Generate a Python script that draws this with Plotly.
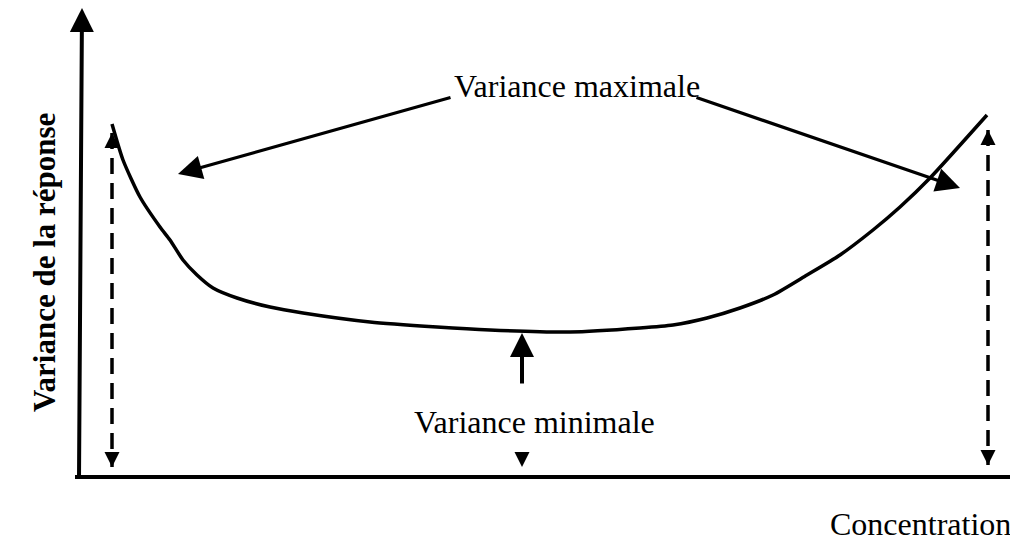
import plotly.graph_objects as go

# Courbe de variance de la réponse en fonction de la concentration
# (unités arbitraires, origine au coin des axes)
concentration = [32, 43, 60, 80, 90, 103, 117, 133, 157, 190, 223, 290, 357, 410,
                 490, 560, 593, 627, 660, 693, 727, 760, 793, 820, 850, 907]
variance = [354, 318, 281, 251, 238, 218, 203, 190, 180, 171, 165, 156, 151, 148,
            146, 150, 153, 160, 170, 183, 203, 223, 248, 271, 300, 363]

# bornes des flèches pointillées (gauche / droite) et flèche du minimum
borne_gauche_x = [32, 32]
borne_gauche_y = [345, 11]
borne_droite_x = [908, 908]
borne_droite_y = [348, 13]
minimum_x = 442
minimum_y = 145

label_max = "Variance maximale"
label_min = "Variance minimale"
label_x = "Concentration"
label_y = "<b>Variance de la réponse</b>"

POLICE = "Liberation Serif, Times New Roman, serif"
NOIR = "black"

fig = go.Figure()

# courbe
fig.add_trace(go.Scatter(
    x=concentration, y=variance, mode="lines",
    line=dict(color=NOIR, width=3.5, shape="spline", smoothing=0.6),
    hoverinfo="skip", showlegend=False))

# flèches pointillées doubles
for bx, by in [(borne_gauche_x, borne_gauche_y), (borne_droite_x, borne_droite_y)]:
    fig.add_trace(go.Scatter(
        x=bx, y=by, mode="lines+markers",
        line=dict(color=NOIR, width=3.5, dash="16px,9px"),
        marker=dict(symbol=["arrow-up", "arrow-down"], size=15, color=NOIR),
        hoverinfo="skip", showlegend=False))

# pointe isolée sous "Variance minimale"
fig.add_trace(go.Scatter(
    x=[minimum_x], y=[11], mode="markers",
    marker=dict(symbol="arrow-down", size=15, color=NOIR),
    hoverinfo="skip", showlegend=False))

# axe des concentrations : la pointe sort de la fenêtre
fig.add_trace(go.Scatter(
    x=[-5, 948], y=[1, 1], mode="lines+markers", cliponaxis=False,
    line=dict(color=NOIR, width=4),
    marker=dict(symbol=["circle", "arrow-right"], size=[0, 16], color=NOIR),
    hoverinfo="skip", showlegend=False))


def fleche(x0, y0, x1, y1, largeur=3.2, taille=1.5):
    fig.add_annotation(
        x=x1, y=y1, ax=x0, ay=y0, xref="x", yref="y", axref="x", ayref="y",
        text="", showarrow=True, arrowhead=2, arrowwidth=largeur,
        arrowsize=taille, arrowcolor=NOIR, standoff=0)


# axe des variances
fleche(-1, 0, 2, 470, largeur=4, taille=1.2)

# flèches de "Variance maximale"
fleche(372, 381, 98, 304)
fleche(615, 381, 880, 290)

# flèche du minimum
fleche(minimum_x, 93, minimum_x, minimum_y, largeur=4, taille=1.2)

# textes
fig.add_annotation(x=497, y=392, text=label_max, showarrow=False,
                   font=dict(family=POLICE, size=32, color=NOIR))
fig.add_annotation(x=454, y=56, text=label_min, showarrow=False,
                   font=dict(family=POLICE, size=32, color=NOIR))
fig.add_annotation(x=933, y=-46, text=label_x, showarrow=False, xanchor="right",
                   font=dict(family=POLICE, size=32, color=NOIR))
fig.add_annotation(x=-36, y=215, text=label_y, showarrow=False, textangle=-90,
                   font=dict(family=POLICE, size=31, color=NOIR))

# la page ajoute une marge de 8 px : la figure occupe le reste de la fenêtre
fig.update_xaxes(range=[-72, 938], visible=False, fixedrange=True)
fig.update_yaxes(range=[-63, 470], visible=False, fixedrange=True)
fig.update_layout(
    width=1010, height=533,
    margin=dict(l=0, r=0, t=0, b=0),
    plot_bgcolor="white", paper_bgcolor="white",
    showlegend=False)

fig.write_html("out.html")
